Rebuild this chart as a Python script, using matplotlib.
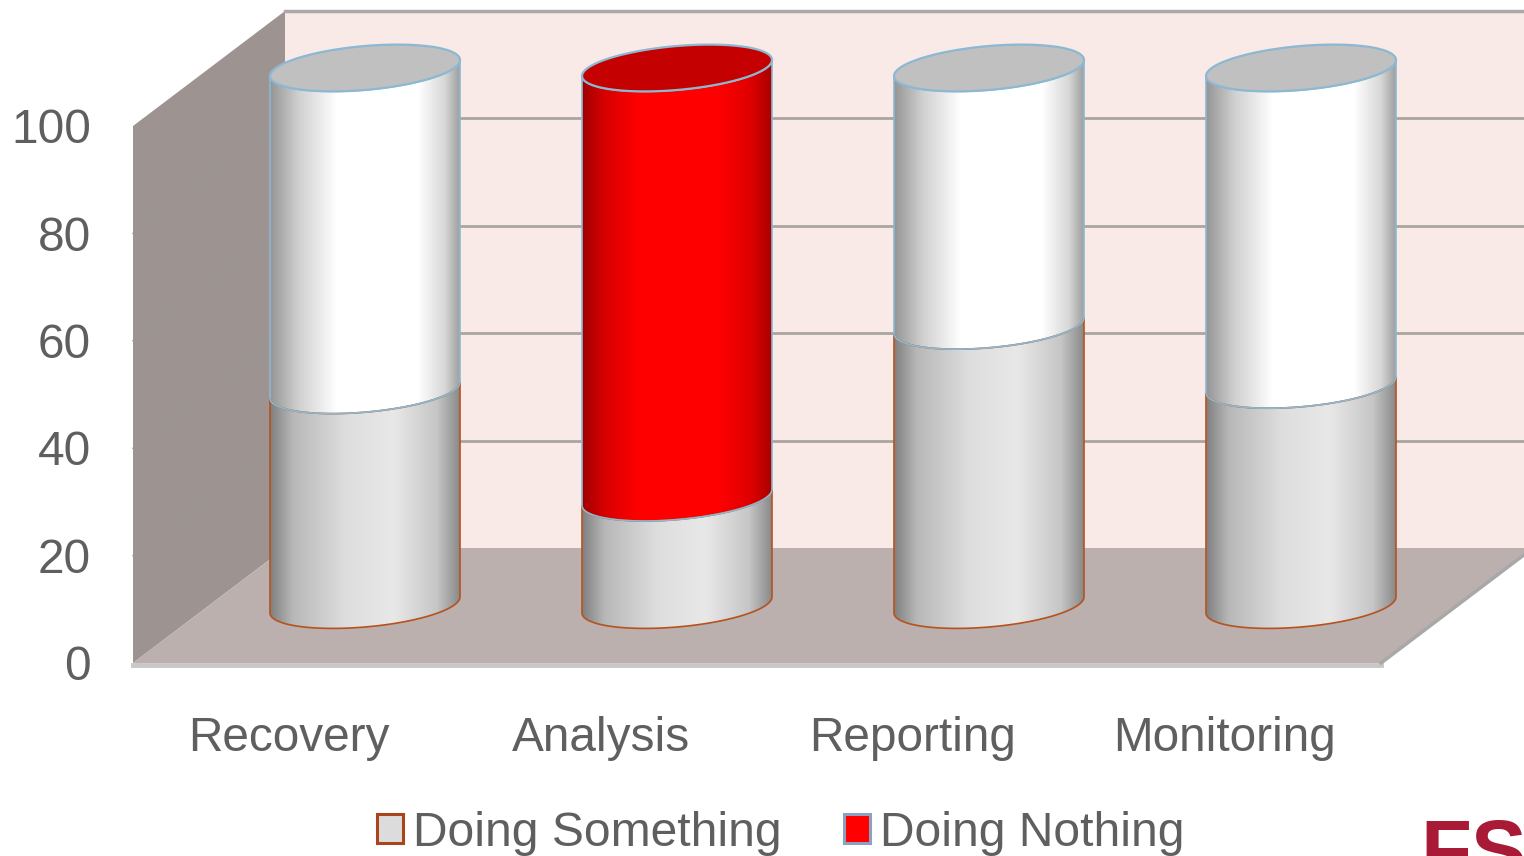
import matplotlib
matplotlib.use("Agg")
import matplotlib.pyplot as plt
from matplotlib.patches import Polygon, Patch
from matplotlib.colors import LinearSegmentedColormap
import numpy as np

categories = ['Recovery', 'Analysis', 'Reporting', 'Monitoring']
doing_something = [40, 20, 52, 41]
doing_nothing = [60, 80, 48, 59]
y_ticks = [0, 20, 40, 60, 80, 100]

plt.rcParams['font.family'] = ['Liberation Sans', 'DejaVu Sans']

TEXT = '#5f5f5f'
# pixels per data unit on the front plane
SX, SY = 312.0, 5.37
# depth offsets of the 3d box, in data units
BACK_X, BACK_Y = 152 / SX, 115 / SY
MID_X, MID_Y = 76 / SX, 58 / SY
# cylinder ellipse
RX, RY, TILT = 95 / SX, 22 / SY, 8 / SY

gray_cmap = LinearSegmentedColormap.from_list('g', [(0, '#808080'), (0.12, '#b8b8b8'), (0.4, '#dedede'), (0.65, '#e8e8e8'), (0.88, '#c6c6c6'), (1, '#8a8a8a')])
white_cmap = LinearSegmentedColormap.from_list('w', [(0, '#959595'), (0.15, '#d0d0d0'), (0.35, '#ffffff'), (0.78, '#ffffff'), (0.92, '#d8d8d8'), (1, '#a0a0a0')])
red_cmap = LinearSegmentedColormap.from_list('r', [(0, '#a00000'), (0.12, '#d80000'), (0.3, '#ff0000'), (0.72, '#ff0000'), (0.9, '#dc0000'), (1, '#a80000')])


def arc(cx, level, t0, t1, n=60):
    t = np.radians(np.linspace(t0, t1, n))
    x = cx + RX * np.cos(t)
    y = level + RY * np.sin(t) + TILT * np.cos(t)
    return np.column_stack([x, y])


def draw_segment(ax, cx, lo, hi, cmap, edge):
    cy0, cy1 = lo + MID_Y, hi + MID_Y
    verts = np.vstack([arc(cx, cy0, 180, 360), arc(cx, cy1, 360, 180)])
    poly = Polygon(verts, closed=True, facecolor='none', edgecolor=edge, lw=1.2, zorder=5)
    ax.add_patch(poly)
    grad = np.linspace(0, 1, 256).reshape(1, -1)
    im = ax.imshow(grad, cmap=cmap, aspect='auto', zorder=4, interpolation='bilinear',
                   extent=[cx - RX, cx + RX, cy0 - RY - 3, cy1 + RY + 3])
    im.set_clip_path(Polygon(verts, closed=True, transform=ax.transData))


fig = plt.figure(figsize=(15.24, 8.56), dpi=100)
ax = fig.add_axes([0, 0, 1, 1])
ax.axis('off')

x0, x1 = -0.5, 3.5
top = y_ticks[-1]

# box walls
ax.add_patch(Polygon([(x0 + BACK_X, BACK_Y), (x1 + BACK_X, BACK_Y), (x1 + BACK_X, top + BACK_Y), (x0 + BACK_X, top + BACK_Y)],
                     facecolor='#f9e9e7', edgecolor='none', zorder=1))
ax.add_patch(Polygon([(x0, 0), (x0 + BACK_X, BACK_Y), (x0 + BACK_X, top + BACK_Y), (x0, top)],
                     facecolor='#9d9491', edgecolor='none', zorder=2))
ax.add_patch(Polygon([(x0, 0), (x1, 0), (x1 + BACK_X, BACK_Y), (x0 + BACK_X, BACK_Y)],
                     facecolor='#bbb0ae', edgecolor='none', zorder=2))

# gridlines on the back and side walls
for v in y_ticks[1:-1]:
    ax.plot([x0 + BACK_X, x1 + BACK_X], [v + BACK_Y, v + BACK_Y], color='#aaa5a0', lw=2, zorder=1.5)
    ax.plot([x0, x0 + BACK_X], [v, v + BACK_Y], color='#979797', lw=1, zorder=2.5)
ax.plot([x0 + BACK_X, x1 + BACK_X], [top + BACK_Y, top + BACK_Y], color='#aaaaaa', lw=2.5, zorder=2.5)
ax.plot([x0, x1], [-0.3, -0.3], color='#c8c8c8', lw=3.5, zorder=2.5)
ax.plot([x1, x1 + BACK_X], [0, BACK_Y], color='#a8a8a8', lw=2.5, zorder=2.5)

# cylinders
for i, cat in enumerate(categories):
    cx = i + MID_X
    low = doing_something[i]
    high = low + doing_nothing[i]
    red = cat == 'Analysis'
    draw_segment(ax, cx, 0, low, gray_cmap, '#b5531f')
    draw_segment(ax, cx, low, high, red_cmap if red else white_cmap, '#8cb8d2')
    ax.add_patch(Polygon(arc(cx, high + MID_Y, 0, 360, 120), closed=True,
                         facecolor='#c40000' if red else '#c0c0c0', edgecolor='#8cb8d2', lw=1.6, zorder=6))
    ax.text(i, -16.4, cat, ha='center', va='baseline', fontsize=34.4, color=TEXT)

for v in y_ticks:
    ax.text(x0 - 42 / SX, v - 3.2, str(v), ha='right', va='baseline', fontsize=34.4, color=TEXT)

handles = [Patch(facecolor='#dcdcdc', edgecolor='#a8451a', lw=2.2, label='Doing Something'),
           Patch(facecolor='#ff0000', edgecolor='#8ca0c0', lw=2.2, label='Doing Nothing')]
ax.legend(handles=handles, ncol=2, frameon=False, fontsize=34.6, labelcolor=TEXT,
          loc='center', bbox_to_anchor=(781 / 1524, 1 - 833 / 856), bbox_transform=fig.transFigure,
          handlelength=0.53, handleheight=0.53, handletextpad=0.22, columnspacing=1.29,
          borderpad=0, borderaxespad=0)

# bit of the logo cut off by the bottom edge, same as the reference
ax.text(x0 + (1420 - 133) / SX, -40.1, 'FS', ha='left', va='baseline', fontsize=60, fontweight='bold', color='#a81a35', clip_on=True)

ax.set_xlim(-289 / SX, (1524 - 289) / SX)
ax.set_ylim((663 - 856) / SY, 663 / SY)

fig.savefig('out.png', dpi=100)
